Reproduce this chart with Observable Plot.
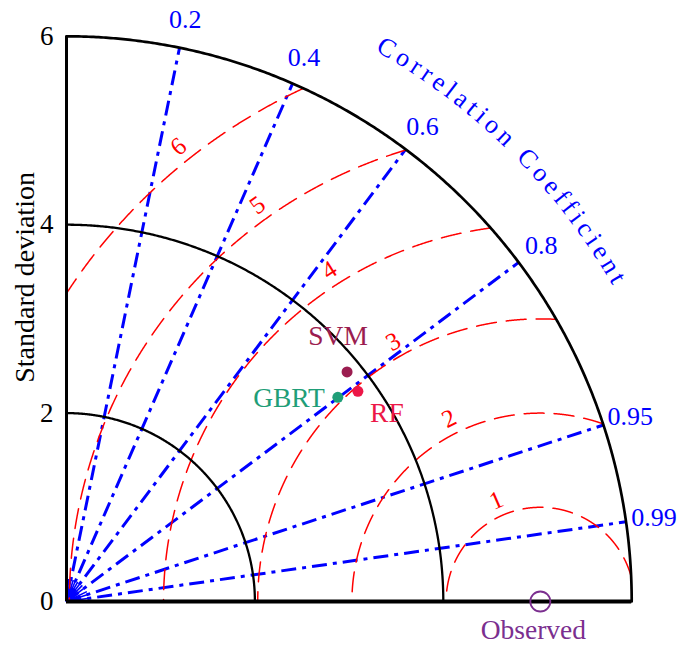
<!DOCTYPE html>
<html><head><meta charset="utf-8">
<script src="https://cdn.jsdelivr.net/npm/d3@7"></script>
<script src="https://cdn.jsdelivr.net/npm/@observablehq/plot@0.6"></script>
<style>body{margin:0;background:#fff} #chart{width:678px;height:645px}</style>
</head><body><div id="chart"></div>
<script>
// ---- data ----
const models = ["SVM", "RF", "GBRT"];
const modelStd = [3.848, 3.814, 3.605];
const modelCorr = [0.774, 0.811, 0.799];
const observedStd = 5.03;
const stdTicks = [0, 2, 4, 6];
const stdArcs = [2, 4, 6];
const corrTicks = [0.2, 0.4, 0.6, 0.8, 0.95, 0.99];
const fanCorr = [0.1, 0.2, 0.3, 0.4, 0.5, 0.6, 0.7, 0.8, 0.9, 0.95, 0.99];
const rmsLevels = [1, 2, 3, 4, 5, 6];
const maxStd = 6;

// ---- styles ----
const modelColors = {SVM: "#9b1d50", RF: "#ec1747", GBRT: "#1f9e78"};
const obsColor = "#7b2f8f";
const serif = "'Liberation Serif', 'Times New Roman', serif";

// ---- derived geometry ----
const rad = Math.PI / 180;
const polar = (s, c) => ({x: s * c, y: s * Math.sqrt(Math.max(0, 1 - c * c))});
const modelPts = models.map((m, i) => ({name: m, ...polar(modelStd[i], modelCorr[i])}));

const arcPts = [];
for (const r of stdArcs) for (let a = 0; a <= 90.001; a += 0.25)
  arcPts.push({r, x: r * Math.cos(a * rad), y: r * Math.sin(a * rad)});

const rmsPts = [];
for (const r of rmsLevels) for (let a = 0; a <= 180.001; a += 0.1) {
  const x = observedStd + r * Math.cos(a * rad), y = r * Math.sin(a * rad);
  if (x >= 0 && x * x + y * y <= maxStd * maxStd + 1e-9) rmsPts.push({r, x, y});
}
const rmsLabels = rmsLevels.map(r => {
  const phi = 110.5 + 3 * r, d = r + 0.17;
  return {r, x: observedStd + d * Math.cos(phi * rad), y: d * Math.sin(phi * rad), rot: 90 - phi};
});

const plot = Plot.plot({
  width: 678, height: 645,
  marginLeft: 66, marginRight: 0, marginTop: 0, marginBottom: 44,
  x: {domain: [0, 612 / 94.2], axis: null},
  y: {domain: [0, 601 / 94.2]},
  color: {type: "identity"},
  style: {fontFamily: serif, fontSize: "26px", background: "white", overflow: "visible"},
  marks: [
    // correlation rays
    Plot.link(corrTicks, {x1: 0, y1: 0, x2: d => polar(maxStd, d).x, y2: d => polar(maxStd, d).y,
      stroke: "blue", strokeWidth: 3, strokeDasharray: "15,6,4,6"}),
    Plot.link(fanCorr, {x1: 0, y1: 0, x2: d => polar(0.24, d).x, y2: d => polar(0.24, d).y,
      stroke: "blue", strokeWidth: 1.6}),
    // RMS contours
    Plot.line(rmsPts, {x: "x", y: "y", z: "r", stroke: "red", strokeWidth: 1.5, strokeDasharray: "20,10"}),
    // std arcs
    Plot.line(arcPts.filter(d => d.r < maxStd), {x: "x", y: "y", z: "r", stroke: "black", strokeWidth: 2.3}),
    Plot.line(arcPts.filter(d => d.r === maxStd), {x: "x", y: "y", stroke: "black", strokeWidth: 2.7}),
    // axes lines
    Plot.ruleX([0], {y1: 0, y2: maxStd, stroke: "black", strokeWidth: 3}),
    Plot.ruleY([0], {x1: 0, x2: maxStd, stroke: "black", strokeWidth: 4}),
    Plot.axisY(stdTicks, {tickSize: 0, tickPadding: 13, fontSize: 27, tickFormat: d => String(d), label: null}),
    Plot.text(["Standard deviation"], {x: -0.435, y: 3.44, text: d => d, rotate: -90, fontSize: 28, fill: "black"}),
    // correlation labels
    Plot.text(corrTicks, {x: d => polar(6.3, d).x, y: d => polar(6.3, d).y, text: d => String(d), fill: "blue", fontSize: 26}),
    // RMS labels
    Plot.text(rmsLabels, {x: "x", y: "y", text: d => String(d.r), rotate: "rot", fill: "red", fontSize: 25}),
    // observed
    Plot.dot([observedStd], {x: d => d, y: 0, r: 10, stroke: obsColor, strokeWidth: 1.8, fill: "none"}),
    Plot.text([observedStd], {x: d => d, y: 0, text: () => "Observed", dx: -7, dy: 29, fill: obsColor, fontSize: 27.5}),
    // models
    Plot.dot(modelPts, {x: "x", y: "y", r: 5.5, fill: d => modelColors[d.name]}),
    Plot.text(modelPts.filter(d => d.name === "SVM"), {x: "x", y: "y", text: "name", dx: -9, dy: -36, fill: d => modelColors[d.name], fontSize: 27.5}),
    Plot.text(modelPts.filter(d => d.name === "RF"), {x: "x", y: "y", text: "name", dx: 29, dy: 22, fill: d => modelColors[d.name], fontSize: 27.5}),
    Plot.text(modelPts.filter(d => d.name === "GBRT"), {x: "x", y: "y", text: "name", dx: -13, dy: 1, textAnchor: "end", fill: d => modelColors[d.name], fontSize: 27.5})
  ]
});
document.getElementById("chart").appendChild(plot);

// curved "Correlation Coefficient" title along an arc, positioned with the plot's scales
const sx = plot.scale("x"), sy = plot.scale("y");
const cx = sx.apply(0), cy = sy.apply(0), R = sx.apply(6.7) - cx;
const a0 = 60.7 * rad, a1 = 30.0 * rad;
const p0 = [cx + R * Math.cos(a0), cy - R * Math.sin(a0)], p1 = [cx + R * Math.cos(a1), cy - R * Math.sin(a1)];
const svg = d3.select(plot);
svg.append("path").attr("id", "ccArc").attr("fill", "none")
  .attr("d", `M${p0[0]},${p0[1]} A${R},${R} 0 0 1 ${p1[0]},${p1[1]}`);
const title = "Correlation Coefficient";
const probe = svg.append("text").attr("font-family", serif).attr("font-size", 26).attr("text-anchor", "start").text(title);
const natural = probe.node().getComputedTextLength();
probe.remove();
const target = R * (a0 - a1);
const spacing = (target - natural) / (title.length - 1);
svg.append("text").attr("font-family", serif).attr("font-size", 26).attr("fill", "blue")
  .attr("text-anchor", "start").attr("letter-spacing", spacing)
  .append("textPath").attr("href", "#ccArc").attr("startOffset", 0).text(title);
</script>
</body></html>
